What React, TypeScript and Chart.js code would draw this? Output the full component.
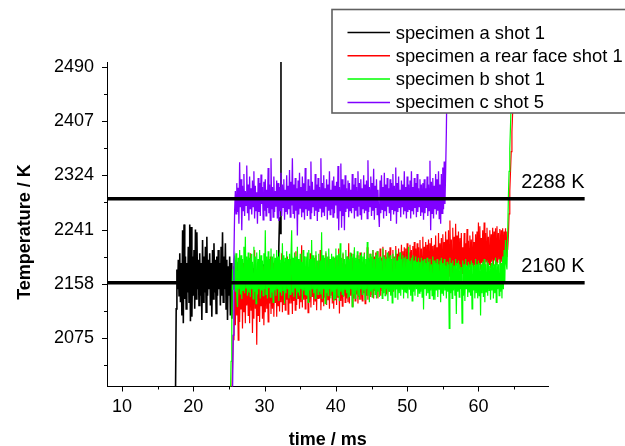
import React, { useEffect, useRef } from "react";
import { Chart, registerables } from "chart.js";

Chart.register(...registerables);

// ---------- data ----------
const seriesLabels = [
  "specimen a shot 1",
  "specimen a rear face shot 1",
  "specimen b shot 1",
  "specimen c shot 5",
];
const seriesColors = ["#000000", "#ff0000", "#00ff00", "#8000ff"];

// specimen a shot 1 (sampled every 0.1 ms from 17.5 ms)
const blackStart = 17.5;
const blackStep = 0.1;
const blackValues = [
  1985, 2120, 2180, 2150, 2195, 2140, 2205, 2130, 2190, 2110,
  2240, 2098, 2249, 2135, 2200, 2120, 2190, 2145, 2215, 2130,
  2249, 2101, 2245, 2108, 2200, 2140, 2210, 2120, 2241, 2135,
  2237, 2150, 2195, 2125, 2205, 2140, 2190, 2103, 2225, 2130,
  2200, 2145, 2215, 2115, 2230, 2140, 2195, 2150, 2205, 2125,
  2190, 2108, 2210, 2135, 2220, 2145, 2195, 2113, 2200, 2140,
  2210, 2150, 2190, 2125, 2215, 2140, 2237, 2130, 2200, 2150,
  2220, 2120, 2195, 2103, 2185, 2140, 2200, 2110, 2190, 2105,
  2175,
  2160, 2185, 2150, 2190, 2165, 2180, 2155, 2192, 2160, 2175,
  2152, 2188, 2168, 2182, 2150, 2190, 2162, 2178, 2156, 2186,
  2164, 2180, 2152, 2194, 2160, 2176, 2158, 2188, 2166, 2182,
  2150, 2190, 2162, 2178, 2155, 2185, 2168, 2180, 2152, 2192,
  2160, 2176, 2158, 2188, 2164, 2182, 2150, 2190, 2162, 2178,
  2156, 2186, 2166, 2180, 2154, 2192, 2160, 2175, 2158, 2188,
  2165, 2180, 2170, 2195,
  2215, 2260, 2235, 2650,
];

// specimen a rear face shot 1 (every 0.1 ms from 25.4 ms)
const redStart = 25.4;
const redStep = 0.1;
const redValues = [
  1990, 2030, 2080,
  2072, 2150, 2095, 2170, 2110, 2165, 2072, 2180, 2100, 2160, 2120, 2175, 2090, 2190, 2115, 2160, 2098, 2170, 2125, 2185,
  2110, 2175, 2098, 2205, 2118, 2165, 2083, 2170, 2105, 2210, 2120, 2160, 2065, 2175, 2110, 2190, 2100, 2165, 2125, 2180,
  2105, 2185, 2095, 2160, 2115, 2195, 2120, 2170, 2100, 2180, 2128, 2200, 2112, 2175, 2120, 2190, 2108, 2170, 2130, 2185,
  2108, 2180, 2125, 2195, 2116, 2170, 2130, 2205, 2115, 2185, 2126, 2192, 2118, 2176, 2134, 2200, 2112, 2188, 2128, 2196,
  2128, 2200, 2112, 2176, 2132, 2190, 2118, 2208, 2126, 2186, 2136, 2196, 2120, 2182, 2130, 2217, 2122, 2190, 2134, 2200,
  2120, 2185, 2135, 2198, 2114, 2176, 2130, 2205, 2122, 2190, 2138, 2196, 2126, 2184, 2132, 2202, 2118, 2188, 2136, 2194,
  2136, 2210, 2118, 2185, 2130, 2196, 2124, 2180, 2138, 2205, 2126, 2192, 2134, 2200, 2120, 2188, 2140, 2198, 2128, 2194,
  2120, 2192, 2134, 2200, 2126, 2186, 2138, 2212, 2113, 2195, 2132, 2190, 2124, 2204, 2140, 2196, 2130, 2188, 2136, 2200,
  2130, 2220, 2128, 2190, 2140, 2205, 2124, 2198, 2136, 2210, 2132, 2194, 2142, 2202, 2128, 2196, 2138, 2206, 2134, 2192,
  2132, 2192, 2144, 2206, 2128, 2188, 2140, 2214, 2134, 2196, 2146, 2204, 2138, 2198, 2142, 2210, 2136, 2200, 2148, 2206,
  2146, 2208, 2136, 2192, 2150, 2212, 2140, 2198, 2148, 2215, 2144, 2202, 2152, 2210, 2142, 2200, 2150, 2208, 2146, 2214,
  2142, 2196, 2154, 2210, 2146, 2200, 2158, 2216, 2150, 2204, 2156, 2212, 2148, 2206, 2160, 2218, 2152, 2208, 2158, 2214,
  2156, 2212, 2148, 2220, 2160, 2206, 2152, 2218, 2162, 2210, 2154, 2216, 2164, 2222, 2158, 2212, 2166, 2220, 2160, 2214,
  2158, 2225, 2164, 2212, 2170, 2230, 2160, 2215, 2168, 2222, 2164, 2218, 2172, 2226, 2166, 2220, 2174, 2228, 2168, 2216,
  2162, 2218, 2172, 2232, 2166, 2214, 2174, 2236, 2168, 2220, 2176, 2228, 2170, 2234, 2178, 2222, 2172, 2238, 2180, 2226,
  2176, 2240, 2170, 2255, 2184, 2226, 2172, 2244, 2180, 2230, 2176, 2250, 2186, 2232, 2178, 2238, 2182, 2228, 2174, 2236,
  2174, 2214, 2182, 2236, 2170, 2220, 2186, 2242, 2176, 2224, 2184, 2232, 2178, 2226, 2188, 2238, 2180, 2222, 2186, 2234,
  2184, 2238, 2178, 2252, 2188, 2246, 2180, 2228, 2190, 2240, 2182, 2252, 2186, 2236, 2192, 2244, 2184, 2230, 2188, 2240,
  2182, 2234, 2192, 2244, 2186, 2238, 2194, 2243, 2188, 2246, 2190, 2236, 2196, 2242, 2186, 2240, 2192, 2243, 2188, 2238,
  2196, 2243, 2200, 2238, 2210,
  2230, 2265, 2300, 2330, 2360, 2390, 2420, 2460, 2520,
];

// specimen b shot 1 (every 0.1 ms from 25.2 ms)
const greenStart = 25.2;
const greenStep = 0.1;
const greenValues = [
  1980, 2040, 2110, 2180, 2150, 2195,
  2200, 2146, 2205, 2138, 2123, 2198, 2150, 2210, 2142, 2202, 2135, 2196, 2148, 2215, 2144, 2230, 2152, 2200, 2140, 2206,
  2145, 2198, 2138, 2204, 2150, 2192, 2135, 2215, 2146, 2200, 2128, 2206, 2142, 2196, 2150, 2210, 2136, 2202, 2148, 2194,
  2140, 2205, 2150, 2240, 2142, 2200, 2136, 2208, 2152, 2196, 2138, 2212, 2145, 2200, 2130, 2204, 2148, 2198, 2140, 2210,
  2150, 2200, 2132, 2206, 2146, 2195, 2140, 2220, 2148, 2202, 2128, 2198, 2144, 2208, 2150, 2196, 2136, 2204, 2142, 2200,
  2240, 2145, 2198, 2138, 2206, 2152, 2200, 2135, 2215, 2146, 2196, 2140, 2204, 2150, 2192, 2134, 2210, 2148, 2200, 2142,
  2200, 2140, 2206, 2130, 2210, 2148, 2196, 2138, 2225, 2150, 2202, 2144, 2198, 2136, 2208, 2150, 2194, 2142, 2204, 2146,
  2194, 2142, 2237, 2135, 2202, 2150, 2198, 2128, 2208, 2144, 2200, 2140, 2212, 2150, 2196, 2136, 2204, 2146, 2200, 2132,
  2198, 2136, 2212, 2150, 2202, 2140, 2204, 2132, 2220, 2146, 2198, 2142, 2206, 2138, 2196, 2150, 2210, 2144, 2200, 2136,
  2196, 2138, 2206, 2150, 2200, 2123, 2204, 2142, 2214, 2136, 2198, 2148, 2208, 2140, 2196, 2134, 2202, 2150, 2206, 2142,
  2200, 2148, 2205, 2134, 2196, 2150, 2222, 2140, 2198, 2130, 2204, 2146, 2200, 2138, 2210, 2150, 2196, 2142, 2202, 2136,
  2208, 2146, 2198, 2138, 2200, 2152, 2194, 2136, 2212, 2144, 2200, 2140, 2196, 2150, 2206, 2132, 2198, 2146, 2202, 2140,
  2196, 2129, 2204, 2148, 2198, 2138, 2210, 2150, 2194, 2134, 2200, 2144, 2206, 2140, 2196, 2150, 2202, 2136, 2198, 2146,
  2200, 2144, 2196, 2136, 2215, 2150, 2194, 2140, 2198, 2132, 2202, 2146, 2194, 2140, 2200, 2150, 2192, 2138, 2198, 2144,
  2192, 2146, 2198, 2138, 2194, 2119, 2196, 2150, 2190, 2140, 2198, 2144, 2192, 2136, 2196, 2148, 2188, 2140, 2200, 2134,
  2194, 2134, 2190, 2148, 2196, 2138, 2188, 2150, 2194, 2130, 2198, 2144, 2190, 2140, 2196, 2148, 2186, 2136, 2192, 2146,
  2188, 2090, 2198, 2144, 2190, 2136, 2194, 2148, 2186, 2140, 2196, 2112, 2190, 2146, 2194, 2138, 2188, 2150, 2184, 2098,
  2194, 2140, 2188, 2132, 2196, 2150, 2186, 2138, 2192, 2146, 2188, 2140, 2194, 2120, 2190, 2148, 2186, 2136, 2196, 2144,
  2188, 2136, 2194, 2140, 2190, 2110, 2188, 2144, 2192, 2138, 2196, 2130, 2188, 2146, 2194, 2140, 2190, 2148, 2186, 2134,
  2190, 2148, 2194, 2136, 2188, 2144, 2198, 2130, 2192, 2150, 2188, 2140, 2196, 2146, 2190, 2136, 2200, 2150, 2210, 2160,
  2225, 2190,
  2180, 2230, 2290, 2330, 2365, 2400, 2440, 2490, 2560,
];

// specimen c shot 5 (every 0.1 ms from 25.5 ms)
const purpleStart = 25.5;
const purpleStep = 0.1;
const purpleValues = [
  1985, 2080, 2200, 2270, 2300, 2265,
  2312, 2268, 2305, 2250, 2344, 2275, 2318, 2240, 2308, 2270, 2326, 2262, 2300, 2278, 2339, 2266, 2310, 2255, 2322, 2272,
  2304, 2264, 2316, 2276, 2330, 2258, 2308, 2270, 2298, 2250, 2320, 2268, 2312, 2262, 2325, 2280, 2306, 2256, 2314, 2270,
  2318, 2262, 2302, 2274, 2335, 2266, 2310, 2255, 2350, 2272, 2306, 2260, 2322, 2268, 2300, 2276, 2316, 2258, 2312, 2254,
  2306, 2270, 2328, 2262, 2310, 2275, 2318, 2256, 2302, 2268, 2324, 2264, 2308, 2272, 2332, 2260, 2314, 2278, 2350, 2266,
  2310, 2258, 2320, 2270, 2304, 2232, 2316, 2264, 2328, 2274, 2306, 2260, 2322, 2268, 2312, 2256, 2335, 2272, 2300, 2262,
  2318, 2270, 2308, 2258, 2345, 2266, 2314, 2276, 2302, 2262, 2326, 2270, 2310, 2254, 2320, 2268, 2306, 2274, 2350, 2260,
  2312, 2268, 2324, 2262, 2304, 2276, 2318, 2256, 2310, 2270, 2330, 2264, 2302, 2272, 2316, 2260, 2322, 2266, 2308, 2278,
  2314, 2258, 2338, 2240, 2306, 2270, 2342, 2244, 2318, 2262, 2310, 2240, 2324, 2268, 2304, 2274, 2316, 2260, 2312, 2270,
  2302, 2266, 2326, 2274, 2310, 2258, 2320, 2270, 2306, 2262, 2330, 2276, 2312, 2264, 2318, 2256, 2304, 2272, 2324, 2266,
  2310, 2270, 2316, 2258, 2347, 2268, 2306, 2276, 2322, 2262, 2312, 2270, 2334, 2256, 2308, 2274, 2318, 2264, 2302, 2268,
  2245, 2316, 2266, 2324, 2272, 2306, 2258, 2328, 2270, 2310, 2262, 2320, 2276, 2304, 2266, 2318, 2254, 2312, 2272, 2326,
  2264, 2308, 2270, 2336, 2250, 2312, 2268, 2322, 2274, 2302, 2260, 2316, 2276, 2310, 2264, 2330, 2270, 2306, 2258, 2322,
  2268, 2310, 2272, 2316, 2258, 2330, 2270, 2306, 2264, 2320, 2274, 2312, 2260, 2326, 2268, 2304, 2276, 2318, 2262, 2310,
  2268, 2312, 2256, 2318, 2266, 2304, 2274, 2322, 2262, 2310, 2270, 2346, 2240, 2314, 2266, 2320, 2258, 2308, 2272, 2326,
  2264, 2318, 2270, 2330, 2258, 2310, 2250, 2326, 2266, 2336, 2272, 2345, 2280,
  2330, 2390, 2480, 2600,
];

// reference levels
const refValues = [2288, 2160];
const refLabels = ["2288 K", "2160 K"];
const refLineFrom = 7.893;
const refLineTo = 74.9;
const refLabelAt = 66.0;

// axes
const xMin = 7.893;
const xMax = 69.83;
const yMin = 2001.4;
const yMax = 2497;
const xMajorTicks = [10, 20, 30, 40, 50, 60];
const xMinorTicks = [15, 25, 35, 45, 55, 65];
const yMajorTicks = [2075, 2158, 2241, 2324, 2407, 2490];
const yMinorTicks = [2033.5, 2116.5, 2199.5, 2282.5, 2365.5, 2448.5];
const xTitle = "time / ms";
const yTitle = "Temperature / K";

// ---------- helpers ----------
const FONT = "Arial, 'Liberation Sans', sans-serif";

function toPoints(start: number, step: number, values: number[]) {
  return values.map((v, i) => ({ x: Math.round((start + i * step) * 1000) / 1000, y: v }));
}

const decorPlugin = {
  id: "decor",
  afterDatasetsDraw(chart: any) {
    const ctx = chart.ctx;
    const xs = chart.scales.x;
    const ys = chart.scales.y;
    ctx.save();
    ctx.fillStyle = "#000";
    ctx.font = `20px ${FONT}`;
    ctx.textAlign = "left";
    ctx.textBaseline = "alphabetic";
    refValues.forEach((v, i) => {
      ctx.fillText(refLabels[i], xs.getPixelForValue(refLabelAt), ys.getPixelForValue(v) - 10.5);
    });
    ctx.restore();
  },
  afterDraw(chart: any) {
    const ctx = chart.ctx;
    const xs = chart.scales.x;
    const ys = chart.scales.y;
    const area = chart.chartArea;
    ctx.save();
    // tick marks
    ctx.strokeStyle = "#000";
    ctx.lineWidth = 1;
    ctx.beginPath();
    xMajorTicks.forEach((v) => {
      const p = Math.round(xs.getPixelForValue(v)) + 0.5;
      ctx.moveTo(p, area.bottom);
      ctx.lineTo(p, area.bottom + 5);
    });
    xMinorTicks.forEach((v) => {
      const p = Math.round(xs.getPixelForValue(v)) + 0.5;
      ctx.moveTo(p, area.bottom);
      ctx.lineTo(p, area.bottom + 3);
    });
    yMajorTicks.forEach((v) => {
      const p = Math.round(ys.getPixelForValue(v)) + 0.5;
      ctx.moveTo(area.left, p);
      ctx.lineTo(area.left - 5, p);
    });
    yMinorTicks.forEach((v) => {
      const p = Math.round(ys.getPixelForValue(v)) + 0.5;
      ctx.moveTo(area.left, p);
      ctx.lineTo(area.left - 3, p);
    });
    ctx.stroke();

    // axis titles
    ctx.fillStyle = "#000";
    ctx.font = `bold 18px ${FONT}`;
    ctx.textAlign = "center";
    ctx.textBaseline = "alphabetic";
    ctx.fillText(xTitle, (area.left + area.right) / 2, 444.5);
    ctx.save();
    ctx.translate(29.5, 232);
    ctx.rotate(-Math.PI / 2);
    ctx.fillText(yTitle, 0, 0);
    ctx.restore();

    // legend
    const bx = 332;
    const by = 9.5;
    ctx.fillStyle = "#fff";
    ctx.fillRect(bx, by, 400, 103.5);
    ctx.strokeStyle = "#606060";
    ctx.lineWidth = 1.6;
    ctx.strokeRect(bx, by, 400, 103.5);
    ctx.font = `18.4px ${FONT}`;
    ctx.textAlign = "left";
    ctx.textBaseline = "alphabetic";
    seriesLabels.forEach((label, i) => {
      const base = 38.5 + i * 23.3;
      ctx.strokeStyle = seriesColors[i];
      ctx.lineWidth = 1.5;
      ctx.beginPath();
      ctx.moveTo(347.5, base - 6);
      ctx.lineTo(390, base - 6);
      ctx.stroke();
      ctx.fillStyle = "#000";
      ctx.fillText(label, 395.7, base);
    });
    ctx.restore();
  },
};

export default function App() {
  const canvasRef = useRef<HTMLCanvasElement>(null);

  useEffect(() => {
    const canvas = canvasRef.current;
    if (!canvas) return;

    const seriesData = [
      toPoints(blackStart, blackStep, blackValues),
      toPoints(redStart, redStep, redValues),
      toPoints(greenStart, greenStep, greenValues),
      toPoints(purpleStart, purpleStep, purpleValues),
    ];
    const seriesOrder = [4, 3, 2, 1];
    const seriesWidths = [1.6, 1.2, 1.2, 1.3];

    const datasets: any[] = seriesData.map((d, i) => ({
      label: seriesLabels[i],
      data: d,
      borderColor: seriesColors[i],
      backgroundColor: seriesColors[i],
      borderWidth: seriesWidths[i],
      borderJoinStyle: "miter",
      pointRadius: 0,
      tension: 0,
      fill: false,
      order: seriesOrder[i],
    }));
    refValues.forEach((v, i) => {
      datasets.push({
        label: refLabels[i],
        data: [
          { x: refLineFrom, y: v },
          { x: refLineTo, y: v },
        ],
        borderColor: "#000",
        borderWidth: 3.5,
        pointRadius: 0,
        fill: false,
        clip: false,
        order: 0,
      });
    });

    const chart = new Chart(canvas, {
      type: "line",
      data: { datasets },
      options: {
        animation: false,
        responsive: false,
        events: [],
        layout: { padding: { top: 62, right: 76.5, left: 0, bottom: 0 } },
        plugins: {
          legend: { display: false },
          tooltip: { enabled: false },
          title: { display: false },
        },
        scales: {
          x: {
            type: "linear",
            min: xMin,
            max: xMax,
            afterBuildTicks: (s: any) => {
              s.ticks = xMajorTicks.map((v) => ({ value: v }));
            },
            afterFit: (s: any) => {
              s.height = 59.5;
            },
            ticks: {
              color: "#000",
              font: { family: FONT, size: 18 },
              padding: 10,
              maxRotation: 0,
              autoSkip: false,
            },
            grid: { display: false, drawTicks: false },
            border: { display: true, color: "#000", width: 1 },
          },
          y: {
            type: "linear",
            min: yMin,
            max: yMax,
            afterBuildTicks: (s: any) => {
              s.ticks = yMajorTicks.map((v) => ({ value: v }));
            },
            afterFit: (s: any) => {
              s.width = 107;
            },
            ticks: {
              color: "#000",
              font: { family: FONT, size: 18 },
              padding: 13,
              autoSkip: false,
              callback: (v: any) => String(v),
            },
            grid: { display: false, drawTicks: false },
            border: { display: true, color: "#000", width: 1 },
          },
        },
      },
      plugins: [decorPlugin],
    } as any);

    return () => chart.destroy();
  }, []);

  return (
    <div style={{ position: "absolute", left: 0, top: 0, width: 625, height: 446, background: "#fff" }}>
      <canvas ref={canvasRef} width={625} height={446} style={{ display: "block", width: 625, height: 446 }} />
    </div>
  );
}
